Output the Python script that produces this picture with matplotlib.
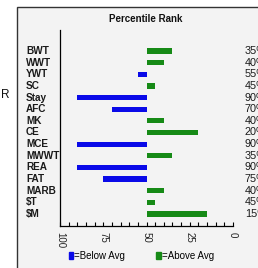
import matplotlib.pyplot as plt
from matplotlib.patches import Patch, Rectangle

# percentile ranks (bars start at 50)
labels = ['BWT', 'WWT', 'YWT', 'SC', 'Stay', 'AFC', 'MK', 'CE',
          'MCE', 'MWWT', 'REA', 'FAT', 'MARB', '$T', '$M']
ranks = [35, 40, 55, 45, 90, 70, 40, 20, 90, 35, 90, 75, 40, 45, 15]
ticks = [100, 75, 50, 25, 0]

blue = '#0a0ae8'
green = '#168a16'
fnt = ['Liberation Sans', 'DejaVu Sans']

fig = plt.figure(figsize=(2.58, 2.68), dpi=100)
fig.patch.set_facecolor('white')

# gray panel with border (cut off at right / bottom like the screenshot)
fig.patches.append(Rectangle((17 / 258, -0.05), 1.0, 1 - 7 / 268 + 0.05,
                             transform=fig.transFigure, facecolor='#f3f3f3',
                             edgecolor='#333333', lw=1.0, zorder=-5))

ax = fig.add_axes([60 / 258, 1 - 226 / 268, 173 / 258, 196 / 268])
ax.set_facecolor('none')
ax.set_zorder(2)

ypos = list(range(len(labels)))
for y, r in zip(ypos, ranks):
    c = blue if r > 50 else green
    ax.barh(y, r - 50, left=50, height=0.45, color=c)

ax.set_xlim(100, 0)
ax.set_ylim(15.03, -1.8)
ax.set_xticks(range(0, 101, 5), minor=True)
ax.set_xticks(ticks)
ax.set_xticklabels([str(t) for t in ticks], rotation=-90, fontsize=7,
                   family=fnt, color='#222222')
ax.tick_params(axis='x', which='both', direction='in', length=3, width=0.8,
               pad=4)
ax.set_yticks(ypos)
ax.set_yticklabels([])
ax.tick_params(axis='y', length=0)
for s in ['top', 'right']:
    ax.spines[s].set_visible(False)
ax.spines['left'].set_linewidth(0.9)
ax.spines['bottom'].set_linewidth(0.9)

# row labels on the left and percentages on the right (cut off by the edge)
for y, lab, r in zip(ypos, labels, ranks):
    ax.text(-0.197, y, lab, transform=ax.get_yaxis_transform(), ha='left',
            va='center', fontsize=7.2, fontweight='bold', family=fnt,
            color='#1a1a1a')
    ax.text(1.069, y, '%d%%' % r, transform=ax.get_yaxis_transform(),
            ha='left', va='center', fontsize=7.8, family=fnt, color='#1a1a1a')

fig.text(146 / 258, 1 - 19 / 268, 'Percentile Rank', ha='center',
         va='center', fontsize=7, fontweight='bold', family=fnt,
         color='#111111')
fig.text(0.005, 1 - 95 / 268, 'R', ha='left', va='center', fontsize=8.5,
         family=fnt, color='#111111')

handles = [Patch(color=blue, label='=Below Avg'),
           Patch(color=green, label='=Above Avg')]
fig.legend(handles=handles, ncol=2, frameon=False,
           loc='center left', bbox_to_anchor=(69 / 258, 1 - 256 / 268),
           prop={'family': fnt, 'size': 7},
           handlelength=0.45, handleheight=0.7, handletextpad=0.1,
           columnspacing=3.2, borderpad=0, borderaxespad=0)

fig.savefig('out.png', dpi=100)
